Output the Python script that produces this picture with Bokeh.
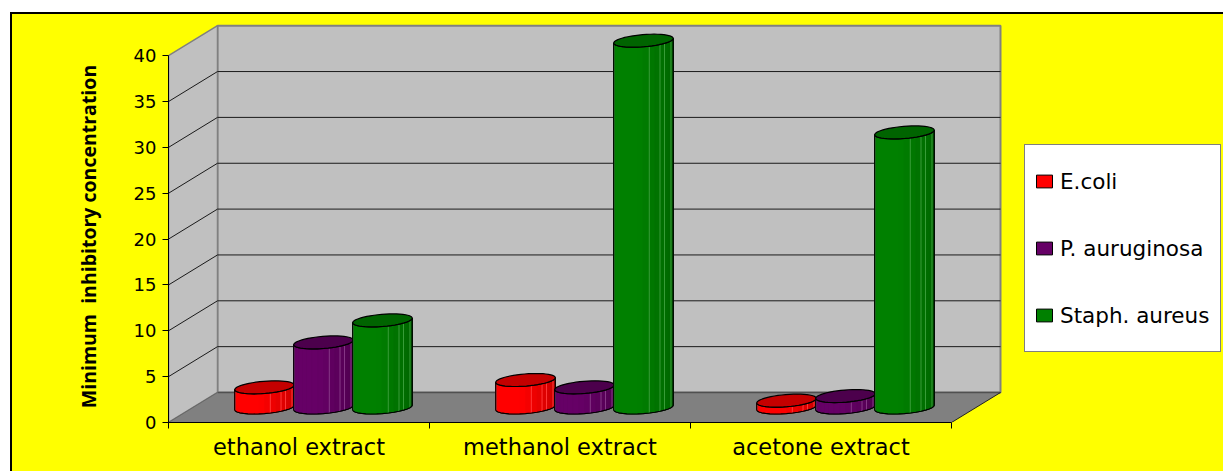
import math

from bokeh.embed import file_html
from bokeh.layouts import column
from bokeh.models import FixedTicker, Label, Legend, LegendItem, LinearAxis
from bokeh.plotting import figure
from bokeh.resources import INLINE

# Chart values
categories = ["ethanol extract", "methanol extract", "acetone extract"]
ecoli = [2.2, 3.0, 0.75]
p_auruginosa = [7.1, 2.2, 1.25]
staph_aureus = [9.5, 40.0, 30.0]
series_names = ["E.coli", "P. auruginosa", "Staph. aureus"]
value_ticks = [0, 5, 10, 15, 20, 25, 30, 35, 40]

# Series colours: side, shaded side, cap
RED = ("#ff0000", "#c00000", "#c40000")
PURPLE = ("#660066", "#4c004c", "#4c004c")
GREEN = ("#008000", "#006000", "#006400")

# Screen scale of the two data axes and the oblique depth offset of the box
PX_X, PX_Y = 261.0, 9.17
DX, DY = 49.0 / PX_X, 30.0 / PX_Y
TOP_VALUE = 40.0
N_CATS = len(categories)

p = figure(
    width=1211, height=457, output_backend="svg", toolbar_location=None,
    x_range=(0, 1055 / PX_X), y_range=(0, 399 / PX_Y),
    x_axis_type=None, y_axis_type=None,
    min_border_left=156, min_border_right=0, min_border_top=9, min_border_bottom=49,
    border_fill_alpha=0, background_fill_alpha=0, outline_line_color=None,
)
p.grid.visible = False

WALL, FLOOR, EDGE = "#c0c0c0", "#808080", "#808080"

# Back wall, side wall and floor
p.patch([DX, N_CATS + DX, N_CATS + DX, DX], [DY, DY, TOP_VALUE + DY, TOP_VALUE + DY],
        fill_color=WALL, line_color=EDGE, line_width=2)
p.patch([0, DX, DX, 0], [0, DY, TOP_VALUE + DY, TOP_VALUE],
        fill_color=WALL, line_color=EDGE, line_width=1.5)
p.patch([0, N_CATS, N_CATS + DX, DX], [0, 0, DY, DY], fill_color=FLOOR, line_color=None)

# Gridlines run along the side wall and then the back wall
for v in value_ticks[1:-1]:
    p.line([0, DX, N_CATS + DX], [v, v + DY, v + DY], line_color="#1a1a1a", line_width=1)
p.line([DX, N_CATS + DX], [DY, DY], line_color="#505050", line_width=1.5)
p.line([N_CATS, N_CATS + DX], [0, DY], line_color="#222222", line_width=1)
p.line([0, DX], [0, DY], line_color="#666666", line_width=1)


def mix(c1, c2, f):
    a = [int(c1[i:i + 2], 16) for i in (1, 3, 5)]
    b = [int(c2[i:i + 2], 16) for i in (1, 3, 5)]
    return "#%02x%02x%02x" % tuple(round(x + (y - x) * f) for x, y in zip(a, b))


BAR_W = 59.5 / PX_X
CAP_H = 6.5 / PX_Y
SHEAR = 10.6 / PX_X
CAP_A = math.sqrt((BAR_W / 2) ** 2 - SHEAR ** 2)
T0 = math.atan2(SHEAR, CAP_A)
FACETS = 16
LIT_FACETS = {1, 9, 11, 12, 14}


def rim(cx, base, t):
    return cx + CAP_A * math.cos(t) + SHEAR * math.sin(t), base + CAP_H * math.sin(t)


def draw_cylinder(cx, value, colours):
    base = DY / 2
    angles = [T0 + math.pi + math.pi * i / FACETS for i in range(FACETS + 1)]
    low = [rim(cx, base, t) for t in angles]
    high = [rim(cx, base + value, t) for t in angles]

    body_x = [q[0] for q in high] + [q[0] for q in reversed(low)]
    body_y = [q[1] for q in high] + [q[1] for q in reversed(low)]
    r = p.patch(body_x, body_y, fill_color=colours[0], line_color="black", line_width=1)

    # Shaded facets around the visible half of the cylinder
    xs, ys, cols = [], [], []
    for i in range(FACETS):
        f = max(0.0, (i / (FACETS - 1) - 0.45) / 0.55)
        xs.append([low[i][0], low[i + 1][0], high[i + 1][0], high[i][0]])
        ys.append([low[i][1], low[i + 1][1], high[i + 1][1], high[i][1]])
        cols.append(mix(colours[0], colours[1], f))
    p.patches(xs, ys, fill_color=cols, line_color=cols, line_width=0.5)
    for i in sorted(LIT_FACETS):
        p.line([low[i][0], high[i][0]], [low[i][1], high[i][1]],
               line_color=mix(colours[0], "#ffffff", 0.22), line_width=1)

    p.patch(body_x, body_y, fill_color=None, line_color="black", line_width=1.2)

    # Cap
    cap = [rim(cx, base + value, 2 * math.pi * i / 48) for i in range(48)]
    p.patch([q[0] for q in cap], [q[1] for q in cap], fill_color=colours[2],
            line_color="black", line_width=1.2)
    return r


legend_items = []
for s, (vals, colours) in enumerate(zip((ecoli, p_auruginosa, staph_aureus), (RED, PURPLE, GREEN))):
    rend = None
    for c, v in enumerate(vals):
        cx = c + 0.5 + DX / 2 + (s - 1) * (BAR_W - 0.002)
        rend = draw_cylinder(cx, v, colours)
    legend_items.append(LegendItem(label=series_names[s], renderers=[rend]))

# Axes along the front edges of the box
FONT = "DejaVu Sans"
y_axis = LinearAxis(
    ticker=FixedTicker(ticks=value_ticks), bounds=(0, TOP_VALUE),
    axis_line_color="black", major_tick_line_color="black", major_tick_out=6, major_tick_in=0,
    minor_tick_line_color=None, major_label_text_font=FONT, major_label_text_font_size="18px",
    major_label_text_color="black", major_label_standoff=6,
)
p.add_layout(y_axis, "left")

x_axis = LinearAxis(
    ticker=FixedTicker(ticks=[c + 0.5 for c in range(N_CATS)], minor_ticks=list(range(N_CATS + 1))),
    bounds=(0, N_CATS), major_label_overrides={c + 0.5: n for c, n in enumerate(categories)},
    axis_line_color="black", major_tick_line_color=None, major_tick_out=0, major_tick_in=0,
    minor_tick_line_color="black", minor_tick_out=6, minor_tick_in=0,
    major_label_text_font=FONT, major_label_text_font_size="22.5px", major_label_text_color="black",
    major_label_standoff=5,
)
p.add_layout(x_axis, "below")

# Vertical axis title, centred on the plotted value range
p.add_layout(Label(
    x=-15, y=186, x_units="screen", y_units="screen",
    text="Minimum\u00a0\u00a0inhibitory concentration",
    angle=math.pi / 2, text_align="center", text_baseline="middle",
    text_font="Open Sans", text_font_style="bold", text_font_size="19.5px", text_color="black",
), "left")

# Legend panel, to the right of the box
legend = Legend(
    items=legend_items, location=(856, 70), orientation="vertical",
    glyph_width=20, glyph_height=16, label_height=54, label_width=151, label_standoff=6, spacing=13,
    padding=9, margin=0, background_fill_color="white", background_fill_alpha=1,
    border_line_color="black", border_line_width=1,
    label_text_font=FONT, label_text_font_size="21.5px", label_text_color="black",
    label_text_baseline="middle",
)
p.add_layout(legend, "center")

# Yellow chart area; the black column behind it shows as the top and left frame lines
area = column(p, margin=(2, 0, 0, 2), styles={"background-color": "#ffff00"})
page = column(area, margin=(12, 0, 0, 10), styles={"background-color": "black"})

open("out.html", "w").write(file_html(page, INLINE))
